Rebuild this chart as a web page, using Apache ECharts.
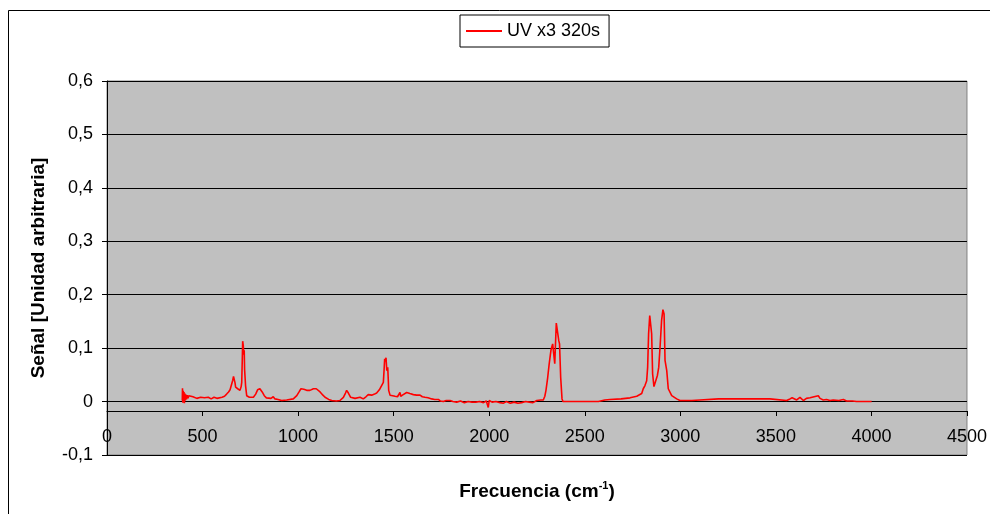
<!DOCTYPE html>
<html>
<head>
<meta charset="utf-8">
<script src="https://cdn.jsdelivr.net/npm/echarts@6/dist/echarts.min.js"></script>
<style>
  html, body { margin: 0; padding: 0; background: #fff; }
  #chart { width: 990px; height: 514px; }
</style>
</head>
<body>
<div id="chart"></div>
<script>
// Spectrum: wavenumber (cm^-1) and signal (arbitrary units)
const freq = [
  394, 395, 397, 399, 401, 403, 405, 408, 410, 413, 416, 420, 424, 428, 434, 450, 470, 490, 510, 530,
  545, 560, 575, 602, 615, 626, 636, 644, 652, 658, 662, 666, 670, 673, 684, 696, 702, 705, 708, 710,
  713, 716, 718, 720, 722, 725, 731, 745, 766, 778, 788, 800, 812, 823, 834, 844, 858, 870, 879, 895,
  914, 940, 975, 985, 993, 1005, 1015, 1030, 1045, 1062, 1080, 1095, 1115, 1130, 1141, 1160, 1176, 1200, 1219, 1237,
  1248, 1254, 1258, 1263, 1275, 1298, 1324, 1341, 1355, 1367, 1385, 1400, 1411, 1425, 1437, 1446, 1450, 1453, 1456, 1460,
  1464, 1469, 1472, 1474, 1481, 1495, 1507, 1520, 1530, 1533, 1537, 1550, 1568, 1585, 1603, 1620, 1638, 1650, 1664, 1680,
  1699, 1715, 1734, 1745, 1760, 1775, 1795, 1810, 1830, 1850, 1870, 1890, 1910, 1930, 1950, 1970, 1985, 1995, 2000, 2015,
  2035, 2056, 2075, 2090, 2110, 2130, 2150, 2170, 2190, 2210, 2229, 2249, 2270, 2283, 2291, 2297, 2306, 2314, 2323, 2332,
  2339, 2343, 2346, 2351, 2356, 2360, 2364, 2368, 2374, 2381, 2386, 2571, 2580, 2605, 2632, 2690, 2737, 2772, 2798, 2806,
  2815, 2824, 2829, 2834, 2840, 2846, 2850, 2855, 2862, 2872, 2880, 2887, 2894, 2902, 2909, 2915, 2920, 2929, 2937, 2955,
  2981, 2998, 3060, 3103, 3112, 3200, 3265, 3269, 3273, 3400, 3469, 3478, 3556, 3574, 3585, 3592, 3609, 3626, 3644, 3660,
  3679, 3700, 3722, 3731, 3748, 3765, 3783, 3800, 3830, 3853, 3870, 3900, 3922, 4001
];
const signal = [
  0.002, 0.025, -0.002, 0.020, 0.000, 0.018, -0.003, 0.015, 0.002, 0.013, 0.004, 0.012, 0.006, 0.011, 0.008, 0.009, 0.006, 0.008, 0.007, 0.008,
  0.005, 0.008, 0.006, 0.008, 0.010, 0.014, 0.018, 0.022, 0.025, 0.040, 0.047, 0.049, 0.035, 0.027, 0.024, 0.021, 0.028, 0.036, 0.080, 0.113,
  0.105, 0.088, 0.096, 0.060, 0.058, 0.030, 0.011, 0.008, 0.008, 0.014, 0.022, 0.024, 0.018, 0.011, 0.007, 0.005, 0.006, 0.009, 0.005, 0.004,
  0.002, 0.003, 0.005, 0.008, 0.011, 0.018, 0.024, 0.023, 0.021, 0.021, 0.024, 0.024, 0.018, 0.012, 0.008, 0.004, 0.002, 0.001, 0.002, 0.008,
  0.016, 0.021, 0.020, 0.016, 0.008, 0.006, 0.008, 0.005, 0.009, 0.013, 0.012, 0.014, 0.016, 0.022, 0.030, 0.036, 0.060, 0.080, 0.075, 0.082,
  0.058, 0.064, 0.040, 0.021, 0.012, 0.011, 0.010, 0.009, 0.010, 0.017, 0.010, 0.013, 0.017, 0.015, 0.013, 0.012, 0.012, 0.009, 0.008, 0.007,
  0.005, 0.004, 0.004, 0.001, 0.000, 0.002, 0.002, 0.000, -0.001, 0.001, -0.002, 0.000, -0.001, -0.001, 0.000, -0.002, 0.001, -0.011, 0.002, -0.001,
  0.000, -0.002, -0.003, 0.000, -0.003, -0.001, -0.003, -0.002, 0.000, -0.001, -0.002, 0.002, 0.003, 0.003, 0.010, 0.021, 0.045, 0.071, 0.096, 0.108,
  0.109, 0.071, 0.100, 0.147, 0.150, 0.148, 0.114, 0.108, 0.045, 0.005, 0.000, 0.000, 0.002, 0.003, 0.004, 0.005, 0.007, 0.010, 0.015, 0.024,
  0.030, 0.039, 0.064, 0.127, 0.161, 0.159, 0.127, 0.052, 0.028, 0.028, 0.049, 0.064, 0.102, 0.152, 0.172, 0.164, 0.077, 0.058, 0.024, 0.011,
  0.005, 0.002, 0.002, 0.003, 0.005, 0.005, 0.005, 0.008, 0.005, 0.005, 0.005, 0.002, 0.002, 0.005, 0.007, 0.007, 0.003, 0.008, 0.002, 0.006,
  0.007, 0.009, 0.011, 0.006, 0.003, 0.004, 0.002, 0.003, 0.002, 0.004, 0.001, 0.001, 0.000, 0.000
];
const seriesName = 'UV x3 320s';
const xTitle = 'Frecuencia (cm';
const yTitle = 'Señal [Unidad arbitraria]';

const points = freq.map((f, i) => [f, signal[i]]);
const font = '"Liberation Sans", Arial, sans-serif';

const chart = echarts.init(document.getElementById('chart'), null, { renderer: 'canvas' });
chart.setOption({
  animation: false,
  backgroundColor: '#ffffff',
  textStyle: { fontFamily: font },
  grid: {
    left: 107, top: 81, width: 860, height: 374,
    show: true, backgroundColor: '#c0c0c0', borderColor: '#808080', borderWidth: 1
  },
  legend: {
    data: [seriesName],
    left: 460, top: 15,
    padding: [7, 9, 7, 6],
    borderColor: '#000', borderWidth: 1,
    itemWidth: 36, itemHeight: 2, itemGap: 4,
    icon: 'rect',
    textStyle: { fontSize: 18, color: '#000', fontFamily: font }
  },
  xAxis: {
    type: 'value', min: 0, max: 4500, interval: 500,
    offset: -44,
    axisLine: { onZero: false, lineStyle: { color: '#000', width: 1 } },
    axisTick: { show: true, inside: false, length: 5, lineStyle: { color: '#000' } },
    axisLabel: { margin: 17, fontSize: 18, color: '#000', fontFamily: font, formatter: v => String(v) },
    splitLine: { show: false },
    name: '{t|' + xTitle + '}{s|-1}{t|)}',
    nameLocation: 'middle', nameGap: 70,
    nameTextStyle: {
      rich: {
        t: { fontSize: 19, fontWeight: 'bold', color: '#000', fontFamily: font, lineHeight: 22 },
        s: { fontSize: 11, fontWeight: 'bold', color: '#000', fontFamily: font, lineHeight: 22, padding: [0, 0, 12, 0] }
      }
    }
  },
  yAxis: {
    type: 'value', min: -0.1, max: 0.6, interval: 0.1,
    axisLine: { show: true, lineStyle: { color: '#000', width: 1 } },
    axisTick: { show: true, inside: false, length: 5, lineStyle: { color: '#000' } },
    axisLabel: {
      margin: 14, fontSize: 18, color: '#000', fontFamily: font,
      formatter: v => Math.abs(v) < 1e-9 ? '0' : v.toFixed(1).replace('.', ',')
    },
    splitLine: { show: true, lineStyle: { color: '#000', width: 1 } },
    name: yTitle, nameLocation: 'middle', nameGap: 59, nameRotate: 90,
    nameTextStyle: { fontSize: 19, fontWeight: 'bold', color: '#000', fontFamily: font }
  },
  series: [{
    name: seriesName,
    type: 'line',
    data: points,
    showSymbol: false,
    symbol: 'none',
    lineStyle: { color: '#ff0000', width: 1.6 },
    itemStyle: { color: '#ff0000' }
  }],
  graphic: [{
    type: 'rect',
    shape: { x: 8.5, y: 10.5, width: 1000, height: 600 },
    style: { fill: 'none', stroke: '#000', lineWidth: 1 },
    silent: true, z: -1
  }]
});
</script>
</body>
</html>
